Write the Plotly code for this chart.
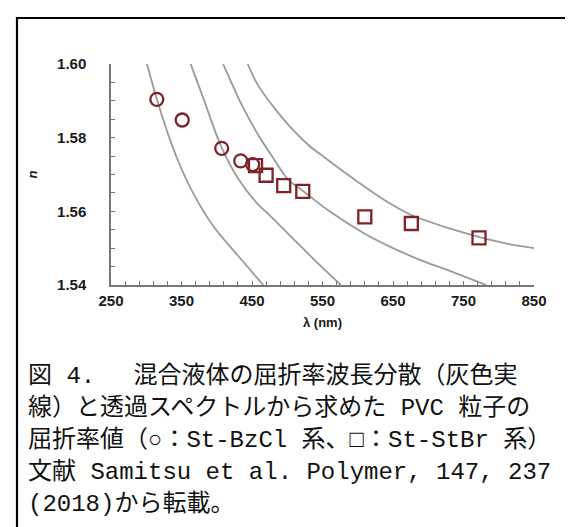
import plotly.graph_objects as go

# ---- data ----
circle_wl = [315, 351, 407, 434, 451]
circle_n = [1.5904, 1.5848, 1.5771, 1.5737, 1.5727]

square_wl = [455, 470, 495, 522, 610, 676, 772]
square_n = [1.5724, 1.5698, 1.5670, 1.5654, 1.5585, 1.5567, 1.5528]

curve1_wl = [301, 315, 330, 345, 365, 395, 430, 466]
curve1_n = [1.600, 1.5905, 1.5815, 1.5738, 1.5655, 1.5560, 1.5480, 1.540]

curve2_wl = [363, 380, 407, 430, 458, 473, 506, 544, 576]
curve2_n = [1.600, 1.5912, 1.5773, 1.5690, 1.5620, 1.5593, 1.5530, 1.5458, 1.540]

curve3_wl = [409, 420, 435, 458, 480, 501, 522, 560, 610, 650, 690, 735, 782]
curve3_n = [1.600, 1.5953, 1.5891, 1.5810, 1.5745, 1.5687, 1.5656, 1.5600, 1.5539, 1.5500, 1.5467, 1.5435, 1.540]

curve4_wl = [444, 458, 480, 501, 530, 553, 600, 640, 676, 720, 773, 810, 851]
curve4_n = [1.600, 1.5944, 1.5885, 1.5836, 1.5780, 1.5746, 1.5680, 1.5628, 1.5590, 1.5560, 1.5530, 1.5513, 1.5500]

x_ticks = [250, 350, 450, 550, 650, 750, 850]
y_ticks = [1.54, 1.56, 1.58, 1.60]

caption_lines = [
    "図 4.　 混合液体の屈折率波長分散（灰色実",
    "線）と透過スペクトルから求めた PVC 粒子の",
    "屈折率値（○：St-BzCl 系、□：St-StBr 系）",
    "文献 Samitsu et al. Polymer, 147, 237",
    "(2018)から転載。",
]

# ---- figure ----
W, H = 573, 527
L, R, T, B = 103, 526, 56, 277  # plot area in pixels

fig = go.Figure()
gray = "#9a9a9a"
for wl, n in [(curve1_wl, curve1_n), (curve2_wl, curve2_n),
              (curve3_wl, curve3_n), (curve4_wl, curve4_n)]:
    fig.add_trace(go.Scatter(x=wl, y=n, mode="lines",
                             line=dict(color=gray, width=1.8, shape="spline", smoothing=1.0),
                             hoverinfo="skip", showlegend=False, cliponaxis=True))

red = "#7e2426"
fig.add_trace(go.Scatter(x=circle_wl, y=circle_n, mode="markers",
                         marker=dict(symbol="circle-open", size=13, color=red,
                                     line=dict(width=2.3, color=red)),
                         showlegend=False))
fig.add_trace(go.Scatter(x=square_wl, y=square_n, mode="markers",
                         marker=dict(symbol="square-open", size=13, color=red,
                                     line=dict(width=2.3, color=red)),
                         showlegend=False))

fam = "Liberation Sans, Arial"
tickfont = dict(family=fam, size=15, color="#1a1a1a", weight="bold")
fig.update_xaxes(range=[250, 850], tickvals=x_ticks, ticktext=[str(v) for v in x_ticks],
                 ticks="inside", ticklen=4, tickcolor="#777", tickwidth=1.2,
                 minor=dict(dtick=20, tick0=250, ticks="inside", ticklen=4,
                            tickcolor="#777", tickwidth=1.2),
                 showline=True, linecolor="#777", linewidth=1.5, ticklabelstandoff=1,
                 showgrid=False, zeroline=False, tickfont=tickfont,
                 title=dict(text="<b>λ (nm)</b>", font=dict(family=fam, size=13,
                                                         color="#1a1a1a"), standoff=10))
fig.update_yaxes(range=[1.54, 1.60], tickvals=y_ticks, ticktext=["1.54", "1.56", "1.58", "1.60"],
                 ticks="inside", ticklen=4, tickcolor="#777", tickwidth=1.2,
                 minor=dict(dtick=0.005, tick0=1.54, ticks="inside", ticklen=4,
                            tickcolor="#777", tickwidth=1.2),
                 showline=True, linecolor="#777", linewidth=1.5, ticklabelstandoff=20,
                 showgrid=False, zeroline=False, tickfont=tickfont,
                 title=dict(text="<b><i>n</i></b>", font=dict(family=fam, size=13,
                                                           color="#1a1a1a"), standoff=16))


def px2paper_x(px):
    return (px - L) / (R - L)


def px2paper_y(py):
    return (B - py) / (B - T)


# border (left and top visible)
fig.add_shape(type="rect", xref="paper", yref="paper",
              x0=px2paper_x(9), x1=px2paper_x(590), y0=px2paper_y(560), y1=px2paper_y(10),
              line=dict(color="black", width=2.2), fillcolor="rgba(0,0,0,0)", layer="above")

cap_font = dict(family="Liberation Mono, Noto Sans CJK JP", size=24, color="#111")
cap_y = [368, 400, 432, 464, 496]
for text, py in zip(caption_lines, cap_y):
    fig.add_annotation(text=text, xref="paper", yref="paper",
                       x=px2paper_x(18), y=px2paper_y(py), xanchor="left", yanchor="middle",
                       showarrow=False, font=cap_font)

fig.update_layout(width=W, height=H, margin=dict(l=L, r=W - R, t=T, b=H - B),
                  paper_bgcolor="white", plot_bgcolor="white")

fig.write_html("out.html")
